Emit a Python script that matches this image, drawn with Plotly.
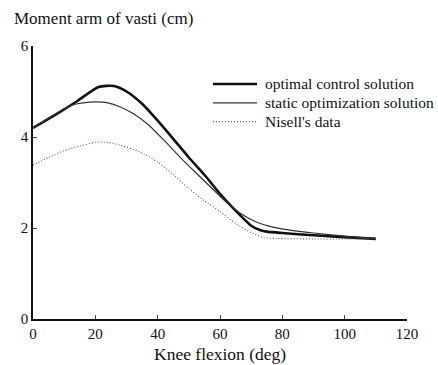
import plotly.graph_objects as go

# Knee flexion angles (deg) and moment arm values (cm)
opt_x = [0, 7, 14, 21, 26, 30, 35, 40, 45, 50, 55, 60, 65, 70, 73, 75, 80, 90, 100, 110]
opt_y = [4.2, 4.48, 4.78, 5.1, 5.12, 5.0, 4.73, 4.36, 3.96, 3.55, 3.17, 2.75, 2.38, 2.05, 1.95, 1.92, 1.89, 1.84, 1.8, 1.76]

stat_x = [0, 5, 10, 13, 16, 20, 24, 28, 32, 37, 42, 47, 52, 57, 62, 67, 72, 77, 82, 90, 100, 110]
stat_y = [4.2, 4.41, 4.62, 4.71, 4.75, 4.77, 4.75, 4.66, 4.52, 4.27, 3.93, 3.57, 3.23, 2.9, 2.57, 2.3, 2.12, 2.02, 1.96, 1.89, 1.82, 1.77]

nis_x = [0, 5, 10, 15, 20, 24, 28, 34, 40, 45, 50, 55, 60, 65, 70, 74, 78, 90, 100, 110]
nis_y = [3.38, 3.55, 3.7, 3.8, 3.88, 3.88, 3.82, 3.68, 3.45, 3.17, 2.87, 2.6, 2.36, 2.1, 1.9, 1.79, 1.77, 1.76, 1.76, 1.76]

series_names = ["optimal control solution", "static optimization solution", "Nisell's data"]

x_ticks = [0, 20, 40, 60, 80, 100, 120]
y_ticks = [0, 2, 4, 6]

FONT = "Liberation Serif"

styles = [
    dict(color="#111111", width=2.6),
    dict(color="#333333", width=1.2),
    dict(color="#555555", width=1.1, dash="1px,2px"),
]

fig = go.Figure()
for xs, ys, name, st in zip([opt_x, stat_x, nis_x], [opt_y, stat_y, nis_y], series_names, styles):
    fig.add_trace(go.Scatter(x=xs, y=ys, mode="lines", name=name, showlegend=False,
                             line=dict(shape="spline", smoothing=0.6, **st)))

# Manual legend (paper coordinates)
legend_rows_y = [0.861, 0.792, 0.723]
shapes = []
annotations = []
for name, st, ly in zip(series_names, styles, legend_rows_y):
    shapes.append(dict(type="line", xref="paper", yref="paper", x0=0.481, x1=0.599, y0=ly, y1=ly,
                       line=dict(color=st["color"], width=st["width"], dash=st.get("dash", "solid"))))
    annotations.append(dict(text=name, xref="paper", yref="paper", x=0.615, y=ly,
                            xanchor="left", yanchor="middle", showarrow=False,
                            font=dict(family=FONT, size=15.5)))

annotations += [
    dict(text="Moment arm of vasti (cm)", xref="paper", yref="paper",
         x=-0.056, y=1.10, xanchor="left", yanchor="middle", showarrow=False,
         font=dict(family=FONT, size=17)),
    dict(text="Knee flexion (deg)", xref="paper", yref="paper",
         x=0.5, y=-0.13, xanchor="center", yanchor="middle", showarrow=False,
         font=dict(family=FONT, size=17.5)),
]

fig.update_layout(
    width=438, height=365,
    margin=dict(l=33, r=31, t=46, b=46, autoexpand=False),
    paper_bgcolor="white", plot_bgcolor="white",
    font=dict(family=FONT, size=14, color="#111111"),
    showlegend=False,
    xaxis=dict(range=[0, 120], tickvals=x_ticks, ticks="inside", ticklen=4,
               showline=True, linecolor="#111111", linewidth=1.5, showgrid=False,
               zeroline=False, tickfont=dict(size=15)),
    yaxis=dict(range=[0, 6], tickvals=y_ticks, ticks="inside", ticklen=4,
               showline=True, linecolor="#111111", linewidth=1.5, showgrid=False,
               zeroline=False, tickfont=dict(size=15)),
    shapes=shapes,
    annotations=annotations,
)

fig.write_html("out.html")
